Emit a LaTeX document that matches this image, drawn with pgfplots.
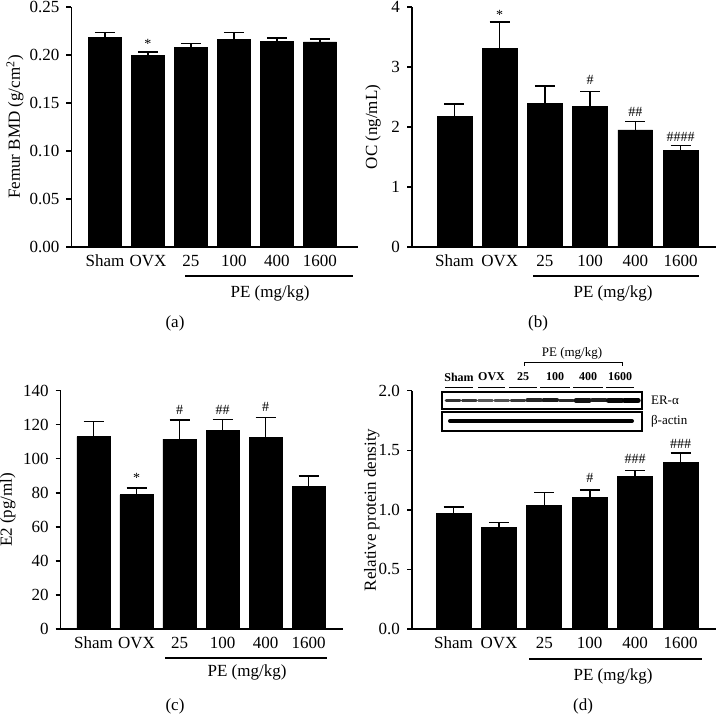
\documentclass[border=0pt]{standalone}
\usepackage{fontspec}
\setmainfont{Liberation Serif}
\usepackage{pgfplots}
\pgfplotsset{compat=1.18}
\pgfplotsset{
  panel/.style={
    scale only axis,
    axis x line*=bottom, axis y line*=left,
    axis line style={line width=0.7pt},
    ybar, bar width=0.77, bar shift=0pt,
    xtick={0,...,5}, xticklabels={Sham,OVX,25,100,400,1600},
    major x tick style={draw=none},
    tick align=outside, major tick length=2.5pt,
    major y tick style={line width=0.7pt, black},
    minor tick num=0,
    ymin=0, enlargelimits=false, clip=false,
    tick label style={font=\fontsize{8.5}{9}\selectfont},
    label style={font=\fontsize{8.5}{10}\selectfont},
    /pgf/number format/assume math mode=true,
    xticklabel style={yshift=2pt},
  },
  barst/.style={fill=black, draw=black,
    error bars/.cd, y dir=plus, y explicit,
    error bar style={line width=0.75pt, black},
    error mark options={rotate=90, line width=0.75pt, mark size=5pt, black}},
}
\newcommand{\ann}{\fontsize{7}{8}\selectfont}
\begin{document}
\begin{tikzpicture}
\useasboundingbox (0,0) rectangle (359pt,357.5pt);
% ---------------- (a)
\begin{axis}[panel, at={(35.75pt,234pt)}, anchor=south west,
  width=143.25pt, height=120pt, xmin=-0.779, xmax=5.884,
  ymax=0.25, ytick={0,0.05,...,0.26},
  yticklabel style={/pgf/number format/.cd, fixed, fixed zerofill, precision=2},
  ylabel={Femur BMD (g/cm\textsuperscript{2})},
  ylabel style={at={(axis description cs:-0.197,0.5)}, anchor=center}]
\addplot[barst] coordinates {
 (0,0.218) +- (0,0.0055)
 (1,0.1995) +- (0,0.0035)
 (2,0.208) +- (0,0.0038)
 (3,0.216) +- (0,0.0073)
 (4,0.214) +- (0,0.0038)
 (5,0.2136) +- (0,0.0031)};
\node[font=\ann] at (axis cs:1,0.2115) {*};
\end{axis}
\draw[line width=0.6pt] (92.5pt,219.5pt) -- (176.5pt,219.5pt);
\node[font=\fontsize{8.5}{9}\selectfont] at (135pt,211pt) {PE (mg/kg)};
\node[font=\fontsize{8.5}{9}\selectfont] at (87.5pt,196pt) {(a)};
% ---------------- (b)
\begin{axis}[panel, at={(206pt,234pt)}, anchor=south west,
  width=152pt, height=120pt, xmin=-0.94, xmax=5.785,
  ymax=4, ytick={0,1,2,3,4},
  ylabel={OC (ng/mL)},
  ylabel style={at={(axis description cs:-0.128,0.5)}, anchor=center}]
\addplot[barst] coordinates {
 (0,2.17) +- (0,0.21)
 (1,3.31) +- (0,0.44)
 (2,2.39) +- (0,0.29)
 (3,2.34) +- (0,0.25)
 (4,1.95) +- (0,0.14)
 (5,1.61) +- (0,0.08)};
\node[font=\ann] at (axis cs:1,3.87) {*};
\node[font=\ann] at (axis cs:3,2.78) {\#};
\node[font=\ann] at (axis cs:4,2.25) {\#\#};
\node[font=\ann] at (axis cs:5,1.84) {\#\#\#\#};
\end{axis}
\draw[line width=0.6pt] (266.5pt,219.5pt) -- (349.5pt,219.5pt);
\node[font=\fontsize{8.5}{9}\selectfont] at (306.5pt,211pt) {PE (mg/kg)};
\node[font=\fontsize{8.5}{9}\selectfont] at (269pt,196pt) {(b)};
% ---------------- (c)
\begin{axis}[panel, at={(30.35pt,43pt)}, anchor=south west,
  width=141.15pt, height=119.15pt, xmin=-0.763, xmax=5.80,
  ymax=140, ytick={0,20,...,140},
  ylabel={E2 (pg/ml)},
  ylabel style={at={(axis description cs:-0.187,0.5)}, anchor=center}]
\addplot[barst] coordinates {
 (0,113) +- (0,8.8)
 (1,78.8) +- (0,3.9)
 (2,111.5) +- (0,11.3)
 (3,116.5) +- (0,6.5)
 (4,112.6) +- (0,11.6)
 (5,83.5) +- (0,6.5)};
\node[font=\ann] at (axis cs:1,88.7) {*};
\node[font=\ann] at (axis cs:2,128.7) {\#};
\node[font=\ann] at (axis cs:3,128.7) {\#\#};
\node[font=\ann] at (axis cs:4,130.6) {\#};
\end{axis}
\draw[line width=0.6pt] (82.5pt,28.5pt) -- (163.5pt,28.5pt);
\node[font=\fontsize{8.5}{9}\selectfont] at (123.5pt,21.5pt) {PE (mg/kg)};
\node[font=\fontsize{8.5}{9}\selectfont] at (87.5pt,4.5pt) {(c)};
% ---------------- (d)
\begin{axis}[panel, at={(206pt,43pt)}, anchor=south west,
  width=152pt, height=119.15pt, xmin=-0.914, xmax=5.78,
  ymax=2, ytick={0,0.5,...,2.01},
  yticklabel style={/pgf/number format/.cd, fixed, fixed zerofill, precision=1},
  ylabel={Relative protein density},
  ylabel style={at={(axis description cs:-0.132,0.5)}, anchor=center}]
\addplot[barst] coordinates {
 (0,0.972) +- (0,0.053)
 (1,0.852) +- (0,0.042)
 (2,1.039) +- (0,0.106)
 (3,1.103) +- (0,0.065)
 (4,1.282) +- (0,0.050)
 (5,1.399) +- (0,0.079)};
\node[font=\ann] at (axis cs:3,1.267) {\#};
\node[font=\ann] at (axis cs:4,1.427) {\#\#\#};
\node[font=\ann] at (axis cs:5,1.55) {\#\#\#};
\end{axis}
\draw[line width=0.6pt] (264.5pt,28pt) -- (351pt,28pt);
\node[font=\fontsize{8.5}{9}\selectfont] at (306.5pt,19.5pt) {PE (mg/kg)};
\node[font=\fontsize{8.5}{9}\selectfont] at (291.5pt,4.5pt) {(d)};
% blot inset
\node[font=\fontsize{6.5}{7}\selectfont] at (286pt,181pt) {PE (mg/kg)};
\draw[line width=0.5pt] (262pt,174.5pt) -- (262pt,176pt) -- (311pt,176pt) -- (311pt,174.5pt);
\foreach \x/\t in {229.5/Sham,245.75/OVX,261.5/25,277.5/100,294/400,310/1600}
  \node[font=\fontsize{6}{7}\selectfont\bfseries] at (\x pt,169pt) {\t};
\foreach \a/\b in {222.5/236.5,239/252.5,254.5/268.5,270/285,286.5/301.5,303/317}
  \draw[line width=0.5pt] (\a pt,163.5pt) -- (\b pt,163.5pt);
\foreach \i/\c/\w in {0/80/1.7,1/78/1.7,2/65/1.6,3/68/1.6,4/78/1.7,5/85/1.9,6/90/2.0,7/84/1.8,8/92/2.2,9/88/2.0,10/96/2.4,11/100/2.6}{
  \pgfmathsetmacro{\xa}{222.5+(\i+0.5)*8.1-3.4}
  \pgfmathsetmacro{\xb}{222.5+(\i+0.5)*8.1+3.4}
  \draw[line width=\w pt, line cap=round, black!\c] (\xa pt,157.3pt) -- (\xb pt,157.3pt);
}
\draw[line width=2pt, line cap=round] (225pt,147pt) -- (316pt,147pt);
\draw[line width=0.9pt] (221pt,153pt) rectangle (321pt,161.5pt);
\draw[line width=0.9pt] (221pt,142pt) rectangle (321pt,151.5pt);
\node[font=\fontsize{6.5}{7}\selectfont, anchor=west] at (322pt,157.3pt) {ER-α};
\node[font=\fontsize{6.5}{7}\selectfont, anchor=west] at (322pt,147pt) {β-actin};
\end{tikzpicture}
\end{document}
